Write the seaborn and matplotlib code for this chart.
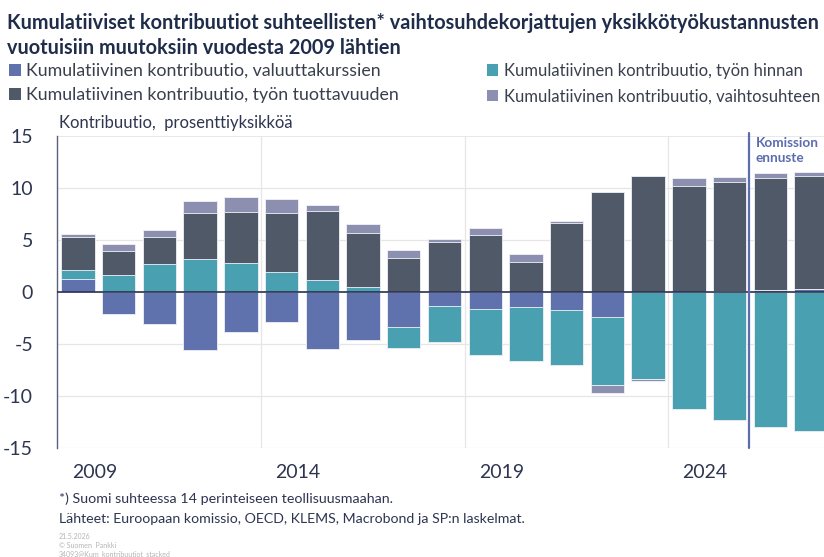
import matplotlib
matplotlib.use("Agg")
import matplotlib.pyplot as plt
from matplotlib.patches import Patch
import seaborn as sns
import numpy as np
import pandas as pd

# Data (percentage points)
years = [str(y) for y in range(2009, 2028)]
valuutta = [1.25, -2.1, -3.07, -5.59, -3.87, -2.91, -5.46, -4.57, -3.32, -1.37,
            -1.66, -1.41, -1.73, -2.36, 0.0, 0.0, 0.1, 0.22, 0.29]
tyon_hinta = [0.92, 1.66, 2.72, 3.19, 2.81, 1.92, 1.12, 0.45, -2.05, -3.45,
              -4.38, -5.2, -5.27, -6.59, -8.37, -11.21, -12.3, -12.9, -13.29]
tuottavuus = [3.17, 2.33, 2.62, 4.38, 4.92, 5.72, 6.71, 5.24, 3.32, 4.86,
              5.53, 2.88, 6.68, 9.62, 11.15, 10.22, 10.51, 10.77, 10.89]
vaihtosuhde = [0.25, 0.64, 0.63, 1.18, 1.41, 1.31, 0.57, 0.86, 0.74, 0.25,
               0.6, 0.83, 0.13, -0.76, -0.16, 0.74, 0.44, 0.45, 0.35]

labels = ["Kumulatiivinen kontribuutio, valuuttakurssien",
          "Kumulatiivinen kontribuutio, työn hinnan",
          "Kumulatiivinen kontribuutio, työn tuottavuuden",
          "Kumulatiivinen kontribuutio, vaihtosuhteen"]
colors = ["#5F72AE", "#48A0B0", "#505968", "#8C8FB0"]
series = [valuutta, tyon_hinta, tuottavuus, vaihtosuhde]

sns.set_theme(style="white")
plt.rcParams["font.family"] = ["Lato", "DejaVu Sans"]

fig = plt.figure(figsize=(8.24, 5.57), dpi=100)
ax = fig.add_axes([0.069, 0.195, 0.935, 0.561])

# stacked bars: positives and negatives stacked separately, drawn as cumulative overlays
arr = np.array(series)
pos = np.clip(arr, 0, None).cumsum(axis=0)
neg = np.clip(arr, None, 0).cumsum(axis=0)
for i in range(3, -1, -1):
    for cum in (pos, neg):
        df = pd.DataFrame({"year": years, "value": cum[i]})
        sns.barplot(data=df, x="year", y="value", color=colors[i], width=0.82,
                    saturation=1, edgecolor="#F2F3F7", linewidth=0.6, ax=ax, zorder=2)

ax.set_xlim(-0.52, 18.4)
ax.set_ylim(-15, 15)
ax.set_yticks([15, 10, 5, 0, -5, -10, -15])
ax.set_yticklabels(["15", "10", "5", "0", "-5", "-10", "-15"], fontsize=14, color="#2E3550")
ax.tick_params(axis="y", length=0, pad=17)
for y in [15, 10, 5, -5, -10, -15]:
    ax.axhline(y, color="#E6E6E6", lw=1.3 if y == 15 else 0.9, zorder=0)
for x in [4.5, 9.5, 14.5]:
    ax.axvline(x, color="#E6E6E6", lw=0.9, zorder=0)
ax.axhline(0, color="#2B3150", lw=1.2, zorder=3)

tick_years = ["2009", "2014", "2019", "2024"]
ax.set_xticks([years.index(t) + 0.4 for t in tick_years])
ax.set_xticklabels(tick_years, fontsize=14, color="#2E3550")
ax.tick_params(axis="x", length=0, pad=11)
ax.set_xlabel("")
ax.set_ylabel("")
for s in ["top", "right", "bottom"]:
    ax.spines[s].set_visible(False)
ax.spines["left"].set_color("#5A6080")
ax.spines["left"].set_linewidth(1.0)

# forecast marker
ax.axvline(16.47, color="#5B6DAE", lw=1.6, zorder=4, ymax=1.01, clip_on=False)
ax.text(16.64, 14.85, "Komission\nennuste", color="#5B6DAE", fontsize=9.8,
        fontweight="bold", va="top", ha="left", linespacing=1.3, zorder=5)

fig.text(0.008, 0.977, "Kumulatiiviset kontribuutiot suhteellisten* vaihtosuhdekorjattujen yksikkötyökustannusten\nvuotuisiin muutoksiin vuodesta 2009 lähtien",
         fontsize=14.3, fontweight="bold", color="#1F2D4B", va="top", ha="left", linespacing=1.3)

# legend, two columns
h = [Patch(facecolor=c, edgecolor="none") for c in colors]
leg1 = fig.legend([h[0], h[2]], [labels[0], labels[2]], loc="upper left",
                  bbox_to_anchor=(0.011, 0.887), frameon=False, fontsize=12.8,
                  handlelength=0.65, handleheight=0.65, handletextpad=0.3,
                  labelspacing=0.48, borderpad=0, borderaxespad=0, labelcolor="#3A3F4E")
fig.legend([h[1], h[3]], [labels[1], labels[3]], loc="upper left",
           bbox_to_anchor=(0.591, 0.887), frameon=False, fontsize=12,
           handlelength=0.69, handleheight=0.69, handletextpad=0.32,
           labelspacing=0.56, borderpad=0, borderaxespad=0, labelcolor="#3A3F4E")

fig.text(0.071, 0.765, "Kontribuutio,  prosenttiyksikköä", fontsize=12, color="#2E3550", va="bottom")

fig.text(0.071, 0.104, "*) Suomi suhteessa 14 perinteiseen teollisuusmaahan.", fontsize=10.3, color="#2E3550", va="center")
fig.text(0.071, 0.068, "Lähteet: Euroopaan komissio, OECD, KLEMS, Macrobond ja SP:n laskelmat.", fontsize=10.2, color="#2E3550", va="center")
fig.text(0.071, 0.037, "21.5.2026", fontsize=5, color="#B5B5B5", va="center")
fig.text(0.071, 0.021, "© Suomen  Pankki", fontsize=5, color="#B5B5B5", va="center")
fig.text(0.071, 0.005, "34093@Kum_kontribuutiot_stacked", fontsize=5, color="#B5B5B5", va="center")

fig.savefig("out.png", dpi=100)
